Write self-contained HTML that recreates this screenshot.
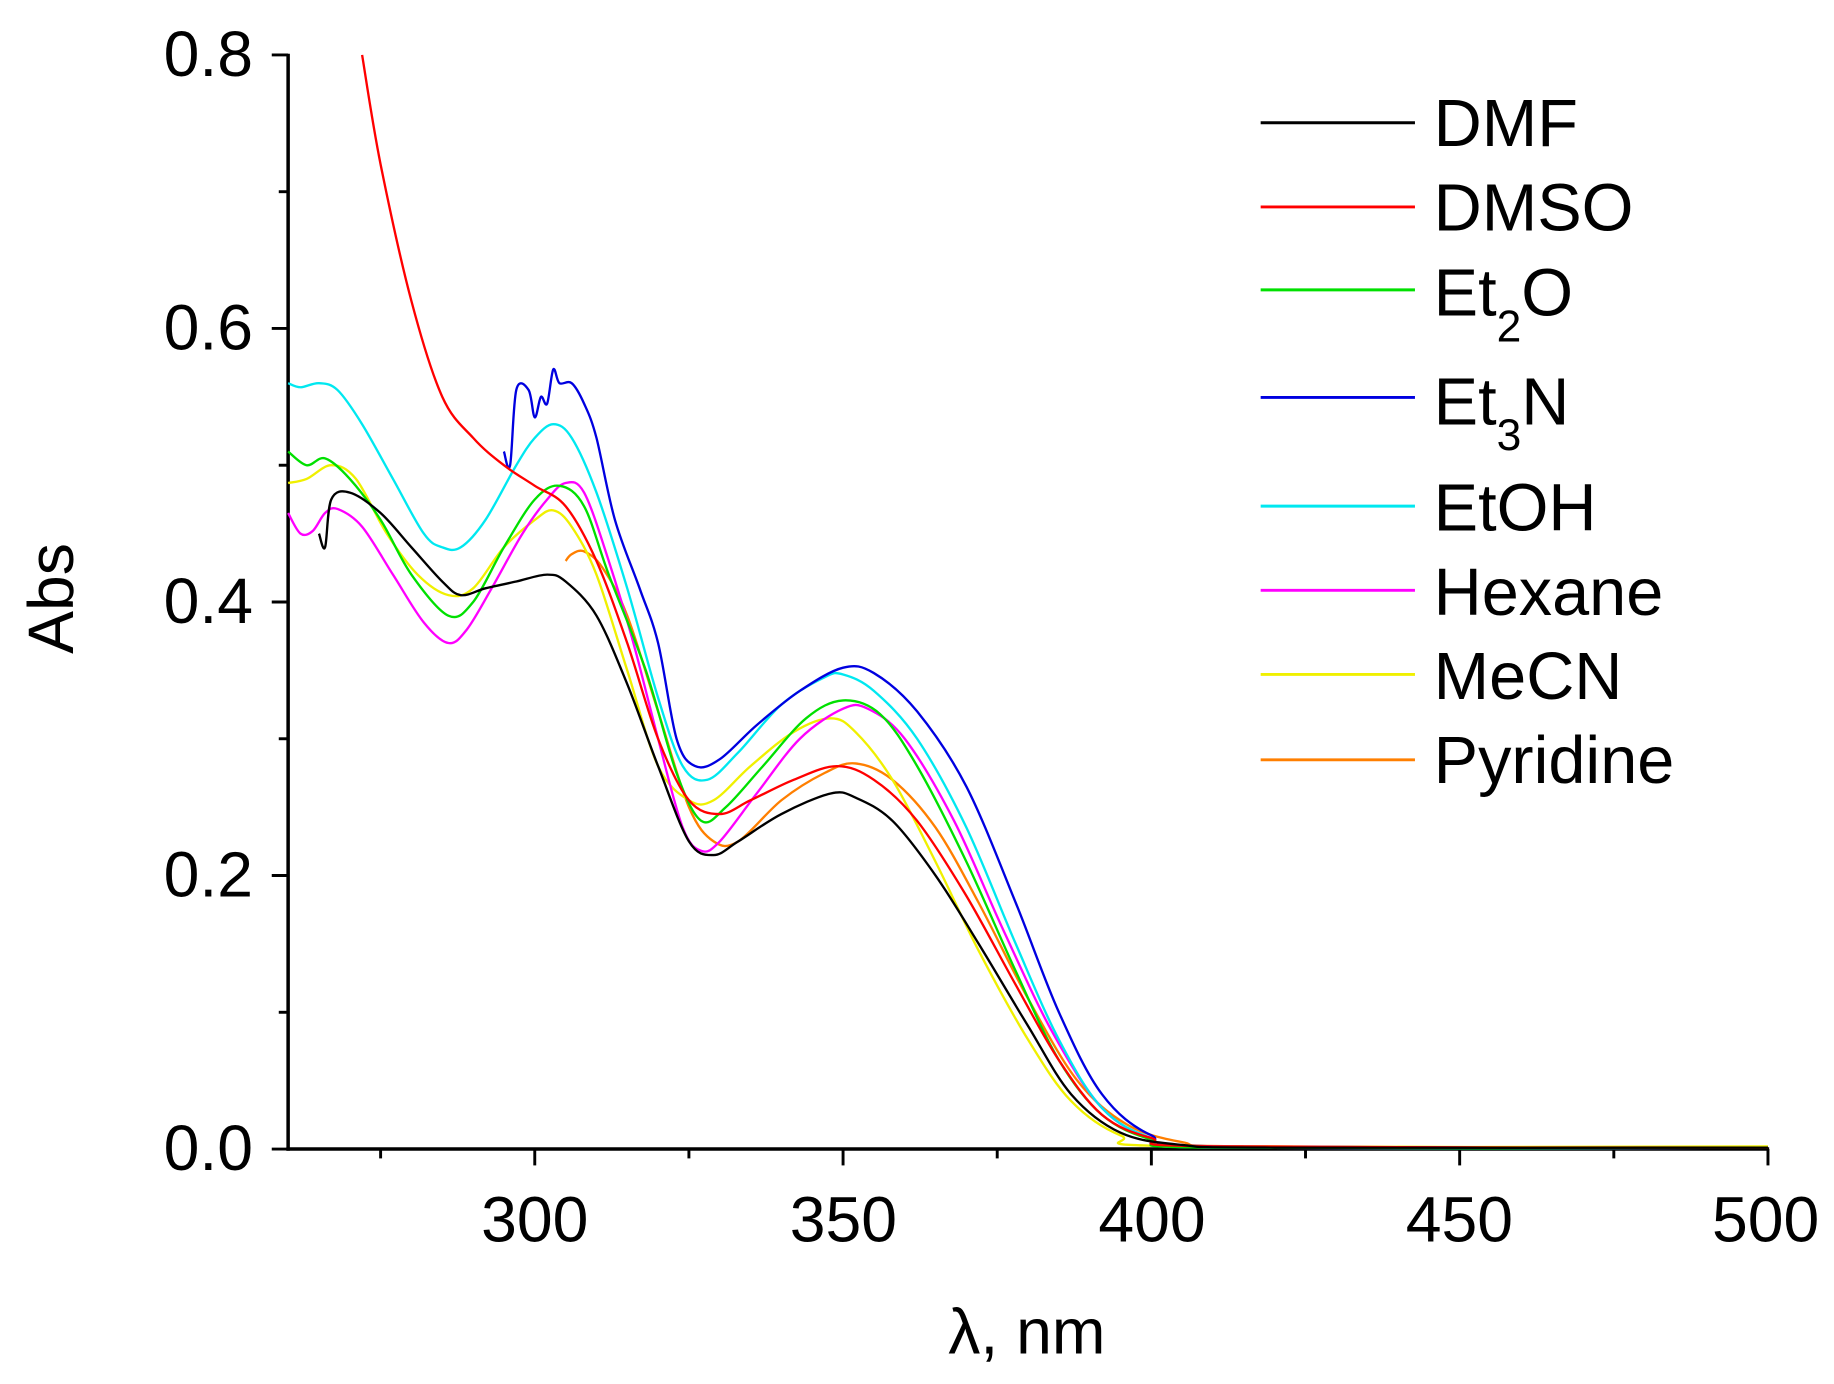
<!DOCTYPE html>
<html><head><meta charset="utf-8"><style>
html,body{margin:0;padding:0;background:#fff}
svg{display:block}
text{font-family:"Liberation Sans",Arial,sans-serif;fill:#000}
</style></head><body>
<svg id="s" width="1834" height="1384" viewBox="0 0 1568 1184" xmlns="http://www.w3.org/2000/svg">
<g stroke="#000" stroke-width="3" fill="none">
<line x1="246" y1="46" x2="246" y2="984.5"/>
<line x1="244.5" y1="983" x2="1513" y2="983"/>
</g>
<g id="ticks" stroke="#000" stroke-width="2.5"></g>
<g font-size="55" text-anchor="end">
<text x="216" y="1001">0.0</text>
<text x="216" y="767">0.2</text>
<text x="216" y="533">0.4</text>
<text x="216" y="299">0.6</text>
<text x="216" y="65">0.8</text>
</g>
<g font-size="55" text-anchor="middle">
<text x="457" y="1062">300</text>
<text x="721" y="1062">350</text>
<text x="985" y="1062">400</text>
<text x="1248" y="1062">450</text>
<text x="1510" y="1062">500</text>
</g>
<text font-size="55" text-anchor="middle" x="878" y="1158">λ, nm</text>
<text font-size="55" text-anchor="middle" transform="translate(62,512) rotate(-90)">Abs</text>
<g id="curves" fill="none" stroke-width="2"></g>
<g font-size="57">
<text x="1226" y="125">DMF</text>
<text x="1226" y="197">DMSO</text>
<text x="1226" y="270">Et<tspan font-size="38" dy="22">2</tspan><tspan dy="-22">O</tspan></text>
<text x="1226" y="363">Et<tspan font-size="38" dy="22">3</tspan><tspan dy="-22">N</tspan></text>
<text x="1226" y="454">EtOH</text>
<text x="1226" y="526">Hexane</text>
<text x="1226" y="598">MeCN</text>
<text x="1226" y="670">Pyridine</text>
</g>
<g stroke-width="2.5">
<line x1="1078" y1="105" x2="1210" y2="105" stroke="#000"/>
<line x1="1078" y1="177" x2="1210" y2="177" stroke="#ff0000"/>
<line x1="1078" y1="248" x2="1210" y2="248" stroke="#00e000"/>
<line x1="1078" y1="340" x2="1210" y2="340" stroke="#0000e0"/>
<line x1="1078" y1="433" x2="1210" y2="433" stroke="#00e8f0"/>
<line x1="1078" y1="505" x2="1210" y2="505" stroke="#ff00ff"/>
<line x1="1078" y1="577" x2="1210" y2="577" stroke="#f0f000"/>
<line x1="1078" y1="650" x2="1210" y2="650" stroke="#ff7f00"/>
</g>
</svg>
<script>
var X=function(n){return 246+(n-260)*5.275},Y=function(a){return 983-a*1170};
var t=document.getElementById('ticks'),h='';
for(var v=0;v<=0.8001;v+=0.1){var maj=Math.round(v*10)%2==0;h+='<line x1="'+(246-(maj?14:8))+'" x2="246" y1="'+Y(v)+'" y2="'+Y(v)+'"/>';}
for(var n=275;n<=500;n+=25){var maj=n%50==0;h+='<line x1="'+X(n)+'" x2="'+X(n)+'" y1="983" y2="'+(983+(maj?14:8))+'"/>';}
t.innerHTML=h;
var D=[
['#ff7f00',[305,.43,306,.435,308,.437,311,.425,315,.39,320,.32,325,.25,329,.225,333,.225,340,.255,347,.275,352,.282,358,.27,365,.235,372,.18,380,.11,388,.05,396,.018,405,.005,415,.002,480,.001]],
['#f0f000',[260,.487,263,.49,267,.5,271,.49,276,.45,281,.42,286,.405,290,.41,295,.44,300,.46,303,.467,306,.455,310,.42,315,.35,320,.28,325,.255,329,.255,335,.28,342,.305,348,.315,352,.305,358,.27,365,.21,372,.145,380,.08,387,.035,395,.01,405,.002,500,.002]],
['#ff00ff',[260,.465,262,.45,264,.452,266,.465,268,.468,272,.455,277,.42,282,.385,286,.37,289,.38,293,.41,298,.45,302,.475,305,.487,308,.48,312,.43,316,.37,320,.3,324,.235,327,.218,330,.225,336,.26,343,.3,350,.322,354,.322,360,.3,368,.24,376,.16,384,.085,392,.03,400,.008,410,.001,500,.001]],
['#00e8f0',[260,.56,262,.557,265,.56,268,.555,272,.53,277,.49,282,.45,285,.44,288,.44,292,.46,297,.5,300,.52,303,.53,306,.52,310,.48,315,.41,320,.33,324,.28,328,.27,333,.29,340,.325,347,.345,350,.347,355,.335,362,.3,370,.235,378,.15,385,.08,392,.03,400,.008,410,.001,500,.001]],
['#0000e0',[295,.51,296,.5,297,.555,299,.555,300,.535,301,.55,302,.545,303,.57,304,.56,306,.56,308,.545,310,.52,313,.46,317,.41,320,.37,323,.3,326,.28,330,.285,336,.31,343,.335,350,.352,355,.348,362,.32,370,.265,378,.18,385,.1,392,.04,400,.01,410,.002,500,.001]],
['#00e000',[260,.51,263,.5,266,.505,270,.49,275,.46,280,.42,286,.39,290,.4,295,.44,300,.475,304,.485,308,.47,312,.42,318,.35,323,.275,327,.24,331,.25,337,.28,344,.315,350,.328,356,.318,362,.28,370,.21,378,.13,385,.065,392,.025,400,.007,410,.001,500,.001]],
['#ff0000',[272,.8,275,.72,280,.62,285,.55,290,.52,295,.5,300,.485,305,.47,310,.43,315,.37,320,.3,325,.255,330,.245,335,.255,342,.27,349,.28,355,.27,362,.24,370,.185,378,.12,385,.065,392,.025,400,.008,410,.002,500,.001]],
['#000000',[265,.45,266,.44,267,.475,270,.48,275,.465,280,.44,285,.415,288,.405,292,.41,297,.415,302,.42,305,.415,310,.39,315,.34,320,.28,325,.225,329,.215,333,.225,340,.245,348,.26,352,.257,358,.24,365,.2,372,.15,380,.09,387,.04,395,.012,405,.003,420,.001,500,.001]]
];
var c='';
D.forEach(function(d){var p=d[1],P=[];for(var i=0;i<p.length;i+=2)P.push([X(p[i]),Y(p[i+1])]);
var s='M'+P[0][0].toFixed(1)+','+P[0][1].toFixed(1);
for(var i=0;i<P.length-1;i++){var p0=P[i-1]||P[i],p1=P[i],p2=P[i+1],p3=P[i+2]||p2;
var c1x=p1[0]+(p2[0]-p0[0])/6,c1y=p1[1]+(p2[1]-p0[1])/6,c2x=p2[0]-(p3[0]-p1[0])/6,c2y=p2[1]-(p3[1]-p1[1])/6;
s+='C'+c1x.toFixed(1)+','+c1y.toFixed(1)+' '+c2x.toFixed(1)+','+c2y.toFixed(1)+' '+p2[0].toFixed(1)+','+p2[1].toFixed(1);}
c+='<path d="'+s+'" stroke="'+d[0]+'" stroke-linejoin="round"/>';});
document.getElementById('curves').innerHTML=c;
</script>
</body></html>
